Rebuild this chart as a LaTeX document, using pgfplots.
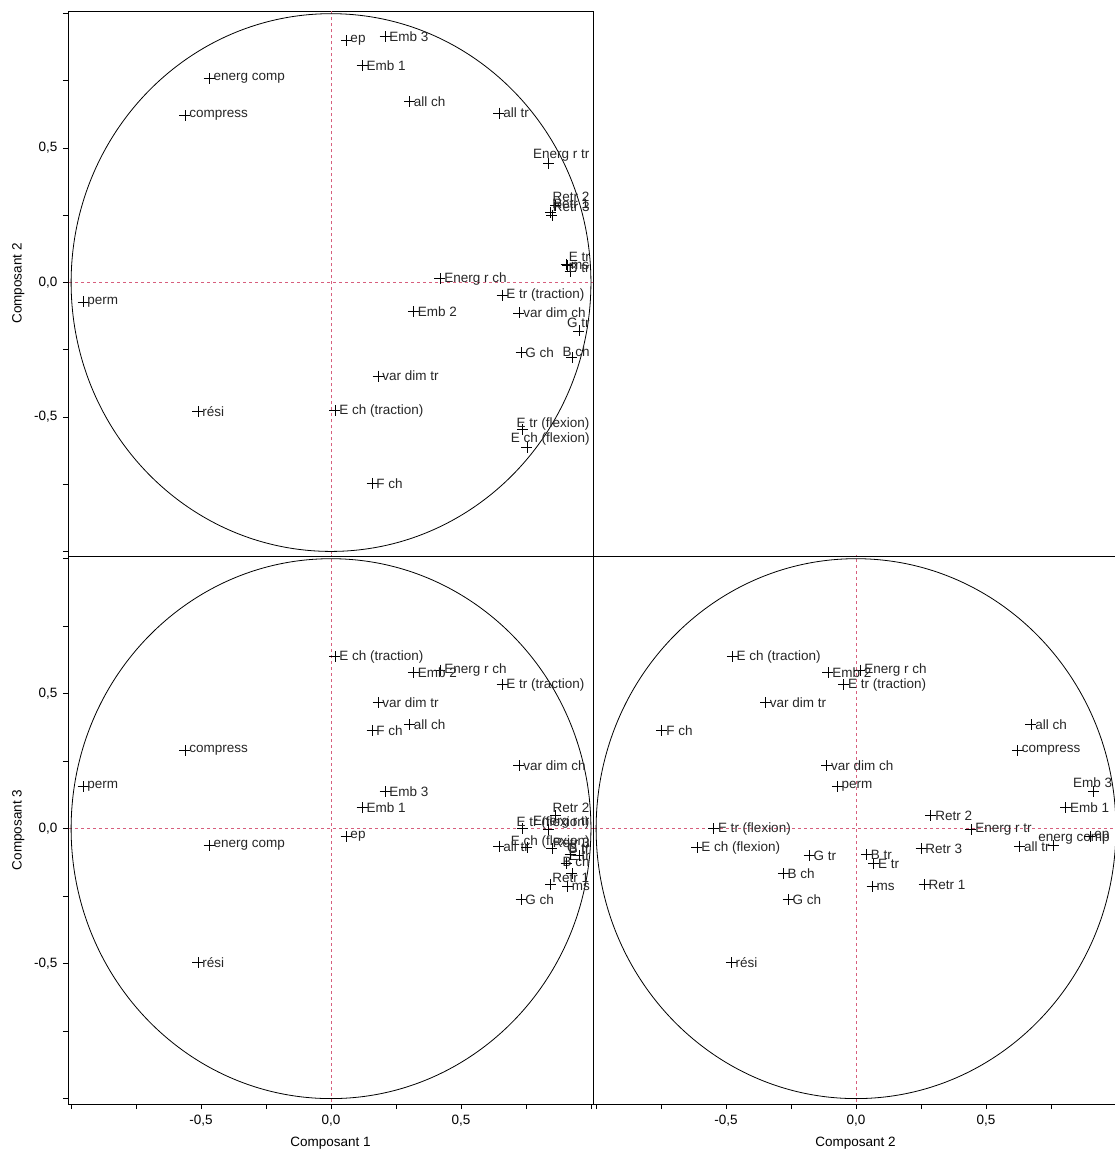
\documentclass[border=0pt]{standalone}
\usepackage{fontspec}
\setmainfont{Liberation Sans}
\usepackage{pgfplots}
\pgfplotsset{compat=1.18}
\usepackage{pgfplotstable}

\definecolor{dashred}{RGB}{215,95,125}

% loadings on components 1-3; a/x/y = label anchor angle (180 west, 0 east) and shift per panel
\pgfplotstableread[col sep=comma]{
name,c1,c2,c3,a12,x12,y12,a13,x13,y13,a23,x23,y23
energ comp,-0.469,0.758,-0.063,180,4,0,180,4,0,0,57,6
compress,-0.562,0.621,0.289,180,4,0,180,4,0,180,4,0
ep,0.058,0.900,-0.030,180,4,0,180,4,0,180,4,0
Emb 3,0.208,0.914,0.137,180,4,0,180,4,0,0,19,9
Emb 1,0.120,0.807,0.078,180,4,0,180,4,0,180,4,0
all ch,0.302,0.673,0.385,180,4,0,180,4,0,180,4,0
all tr,0.646,0.630,-0.065,180,4,0,180,4,0,180,4,0
Energ r tr,0.838,0.442,-0.004,0,41,8,0,41,7,180,4,0
Energ r ch,0.419,0.015,0.587,180,4,0,180,4,0,180,4,0
Emb 2,0.317,-0.108,0.578,180,4,0,180,4,0,180,4,0
E tr (traction),0.658,-0.047,0.533,180,4,0,180,4,0,180,4,0
E ch (traction),0.015,-0.476,0.637,180,4,0,180,4,0,180,4,0
var dim tr,0.181,-0.348,0.467,180,4,0,180,4,0,180,4,0
var dim ch,0.723,-0.113,0.233,180,4,0,180,4,0,180,4,0
F ch,0.158,-0.747,0.363,180,4,0,180,4,0,180,4,0
perm,-0.954,-0.072,0.156,180,4,0,180,4,0,180,4,0
rési,-0.512,-0.480,-0.496,180,4,0,180,4,0,180,4,0
G ch,0.731,-0.261,-0.263,180,4,0,180,4,0,180,4,0
B ch,0.927,-0.280,-0.167,0,18,6,0,18,12,180,4,0
G tr,0.954,-0.180,-0.100,0,11,8,0,11,8,180,4,0
E tr (flexion),0.738,-0.548,0.000,0,67,6,0,67,6,180,4,0
E ch (flexion),0.754,-0.612,-0.070,0,63,8,0,63,6,180,4,0
E tr,0.905,0.068,-0.130,0,24,7,0,24,8,180,4,0
B tr,0.920,0.040,-0.096,0,20,4,0,20,6,180,4,0
ms,0.910,0.062,-0.215,0,22,0,180,4,0,180,4,0
Retr 1,0.845,0.262,-0.207,0,39,8,0,39,7,180,4,0
Retr 2,0.865,0.288,0.048,0,34,8,0,34,8,180,4,0
Retr 3,0.850,0.250,-0.074,0,38,8,0,38,6,180,4,0
}\loadings

\pgfplotsset{
  corr/.style={
    scale only axis, width=525pt,
    xmin=-1.012, xmax=1.008,
    font=\fontsize{13.5}{16}\selectfont,
    axis line style={line width=0.8pt},
    tick align=outside, xtick pos=left, ytick pos=left,
    major tick length=5pt, minor tick length=5pt,
    every tick/.style={black, line width=0.8pt},
    xtick={-1,-0.5,0,0.5,1}, minor xtick={-0.75,-0.25,0.25,0.75},
    xticklabels={,{-0,5},{0,0},{0,5},},
    ytick={-1,-0.5,0,0.5,1}, minor ytick={-0.75,-0.25,0.25,0.75},
    yticklabels={,{-0,5},{0,0},{0,5},},
    xticklabel style={yshift=-3pt}, yticklabel style={xshift=-2pt},
    xlabel style={yshift=-4pt}, ylabel style={yshift=3pt},
  },
  loadplot/.style n args={3}{
    only marks, mark=+, mark size=5.5pt, black,
    mark options={line width=0.8pt},
    nodes near coords, point meta=explicit symbolic,
    visualization depends on={\thisrow{#1}\as\anc},
    visualization depends on={\thisrow{#2}\as\dx},
    visualization depends on={\thisrow{#3}\as\dy},
    nodes near coords style={anchor=\anc, xshift=\dx pt, yshift=\dy pt,
      inner sep=0pt, font=\fontsize{13.5}{16}\selectfont, text=black!85},
  },
}

\newcommand{\guides}{%
  \draw[dashred, line width=0.7pt, dash pattern=on 3pt off 3pt] (axis cs:0,-1.1) -- (axis cs:0,1.1);
  \draw[dashred, line width=0.7pt, dash pattern=on 3pt off 3pt] (axis cs:-1.1,0) -- (axis cs:1.1,0);
  \draw[black, line width=0.8pt] (axis cs:0,0) ellipse [x radius=1, y radius=1];
}

\begin{document}
\begin{tikzpicture}
\useasboundingbox (0pt,0pt) rectangle (1115pt,1156pt);

% top: component 1 vs 2
\begin{axis}[corr, at={(68pt,600pt)}, anchor=south west, height=545pt,
  ymin=-1.017, ymax=1.01, xtick=\empty, minor xtick=\empty,
  ylabel={Composant 2}]
\guides
\addplot[loadplot={a12}{x12}{y12}] table[x=c1, y=c2, meta=name] {\loadings};
\end{axis}

% bottom left: component 1 vs 3
\begin{axis}[corr, at={(68pt,52pt)}, anchor=south west, height=548pt,
  ymin=-1.02, ymax=1.01,
  xlabel={Composant 1}, ylabel={Composant 3}]
\guides
\addplot[loadplot={a13}{x13}{y13}] table[x=c1, y=c3, meta=name] {\loadings};
\end{axis}

% bottom right: component 2 vs 3
\begin{axis}[corr, at={(593pt,52pt)}, anchor=south west, height=548pt,
  ymin=-1.02, ymax=1.01, ytick=\empty, minor ytick=\empty,
  xlabel={Composant 2}]
\guides
\addplot[loadplot={a23}{x23}{y23}] table[x=c2, y=c3, meta=name] {\loadings};
\end{axis}
\end{tikzpicture}
\end{document}
